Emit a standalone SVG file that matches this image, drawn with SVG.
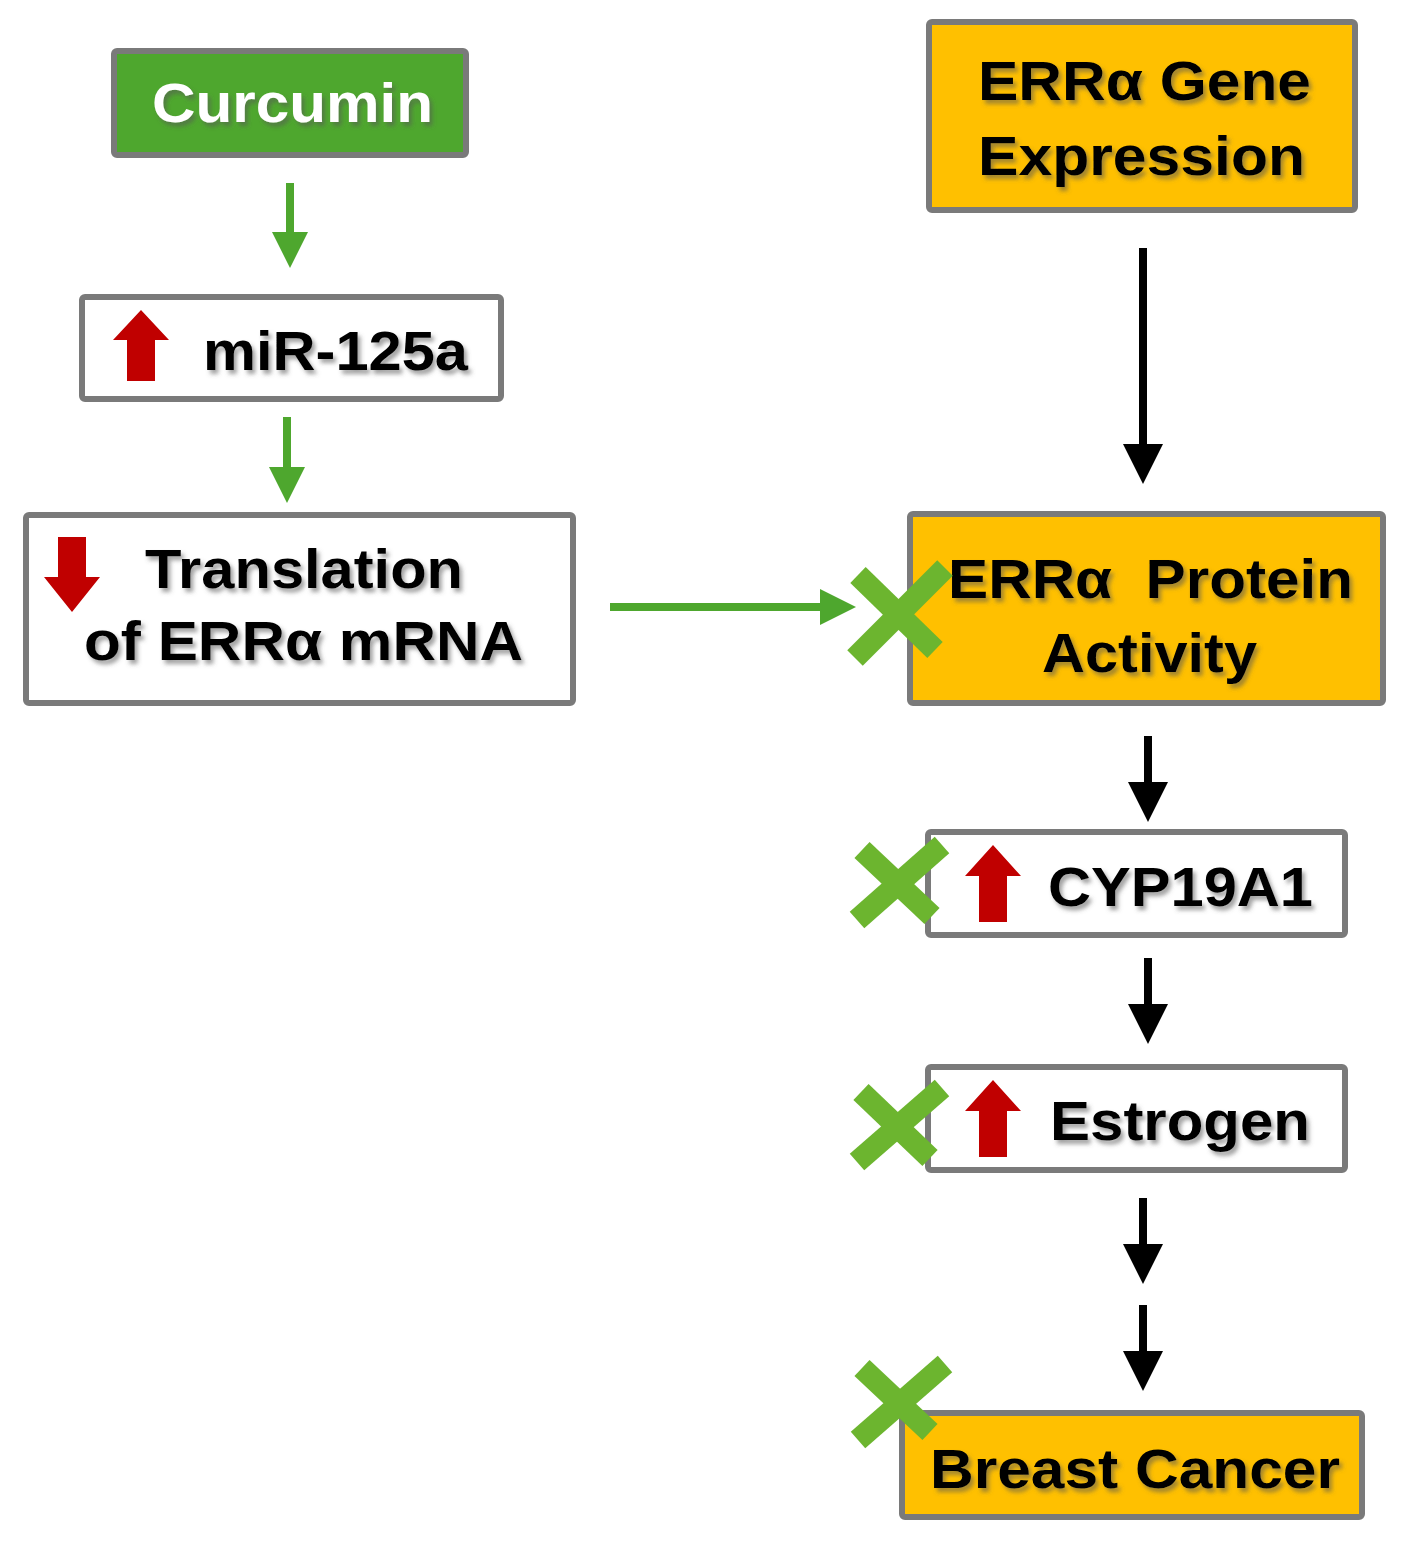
<svg xmlns="http://www.w3.org/2000/svg" width="1417" height="1541" viewBox="0 0 1417 1541">
<defs>
<filter id="sh" x="-10%" y="-20%" width="120%" height="150%">
<feDropShadow dx="3" dy="4" stdDeviation="2" flood-color="#555" flood-opacity="0.55"/>
</filter>
<marker id="gh" viewBox="0 0 10 10" refX="0" refY="5" markerWidth="4.5" markerHeight="4.5" orient="auto" markerUnits="strokeWidth">
<path d="M0,0 L10,5 L0,10 z" fill="#4ea72e"/>
</marker>
<marker id="bh" viewBox="0 0 10 10" refX="0" refY="5" markerWidth="5" markerHeight="5" orient="auto" markerUnits="strokeWidth">
<path d="M0,0 L10,5 L0,10 z" fill="#000"/>
</marker>
</defs>
<style>
.box{stroke:#7a7a7a;stroke-width:6}
.w{fill:#fff}
.o{fill:#ffc000}
.g{fill:#4ea72e}
.t{font-family:"Liberation Sans",Arial,sans-serif;font-weight:bold;font-size:56px;fill:#000;filter:url(#sh)}
.tw{fill:#fff}
.ga{stroke:#4ea72e;stroke-width:8;fill:none;marker-end:url(#gh)}
.ba{stroke:#000;stroke-width:8;fill:none;marker-end:url(#bh)}
.red{fill:#c00000}
.x{stroke:#6cb52f;stroke-width:22;stroke-linecap:butt}
</style>
<rect width="1417" height="1541" fill="#fff"/>

<g id="connectors">
<line class="ga" x1="290" y1="183" x2="290" y2="232"/>
<line class="ga" x1="287" y1="417" x2="287" y2="467"/>
<line class="ga" x1="610" y1="607" x2="820" y2="607"/>
<line class="ba" x1="1143" y1="248" x2="1143" y2="444"/>
<line class="ba" x1="1148" y1="736" x2="1148" y2="782"/>
<line class="ba" x1="1148" y1="958" x2="1148" y2="1004"/>
<line class="ba" x1="1143" y1="1198" x2="1143" y2="1244"/>
<line class="ba" x1="1143" y1="1305" x2="1143" y2="1351"/>
</g>

<g id="curcumin">
<rect class="box g" x="114" y="51" width="352" height="104" rx="3"/>
<text class="t tw" x="152" y="122" textLength="281" lengthAdjust="spacingAndGlyphs" font-size="60">Curcumin</text>
</g>

<g id="mir125a">
<rect class="box w" x="82" y="297" width="419" height="102" rx="3"/>
<path class="red" d="M141,310 L169,340 L155,340 L155,381 L127,381 L127,340 L113,340 z"/>
<text class="t" x="203" y="370" textLength="265" lengthAdjust="spacingAndGlyphs">miR-125a</text>
</g>

<g id="translation">
<rect class="box w" x="26" y="515" width="547" height="188" rx="3"/>
<path class="red" d="M58,537 L86,537 L86,577 L100,577 L72,612 L44,577 L58,577 z"/>
<text class="t" x="145" y="588" textLength="318" lengthAdjust="spacingAndGlyphs">Translation</text>
<text class="t" x="84" y="660" textLength="439" lengthAdjust="spacingAndGlyphs">of ERRα mRNA</text>
</g>

<g id="gene-expression">
<rect class="box o" x="929" y="22" width="426" height="188" rx="3"/>
<text class="t" x="978" y="100" textLength="333" lengthAdjust="spacingAndGlyphs">ERRα Gene</text>
<text class="t" x="978" y="175" textLength="327" lengthAdjust="spacingAndGlyphs">Expression</text>
</g>

<g id="protein-activity">
<rect class="box o" x="910" y="514" width="473" height="189" rx="3"/>
<text class="t" x="948" y="598" textLength="405" lengthAdjust="spacingAndGlyphs" xml:space="preserve">ERRα  Protein</text>
<text class="t" x="1042" y="672" textLength="215" lengthAdjust="spacingAndGlyphs">Activity</text>
<line class="x" x1="855" y1="658" x2="945" y2="568"/>
<line class="x" x1="858" y1="575" x2="935" y2="650"/>
</g>

<g id="cyp19a1">
<rect class="box w" x="928" y="832" width="417" height="103" rx="3"/>
<path class="red" d="M993,845 L1021,876 L1007,876 L1007,922 L979,922 L979,876 L965,876 z"/>
<text class="t" x="1048" y="906" textLength="265" lengthAdjust="spacingAndGlyphs">CYP19A1</text>
<line class="x" x1="857" y1="920" x2="942" y2="845"/>
<line class="x" x1="862" y1="850" x2="932" y2="916"/>
</g>

<g id="estrogen">
<rect class="box w" x="928" y="1067" width="417" height="103" rx="3"/>
<path class="red" d="M993,1080 L1021,1111 L1007,1111 L1007,1157 L979,1157 L979,1111 L965,1111 z"/>
<text class="t" x="1050" y="1140" textLength="260" lengthAdjust="spacingAndGlyphs">Estrogen</text>
<line class="x" x1="857" y1="1162" x2="942" y2="1088"/>
<line class="x" x1="861" y1="1092" x2="930" y2="1158"/>
</g>

<g id="breast-cancer">
<rect class="box o" x="902" y="1413" width="460" height="104" rx="3"/>
<text class="t" x="930" y="1488" textLength="410" lengthAdjust="spacingAndGlyphs">Breast Cancer</text>
<line class="x" x1="858" y1="1440" x2="945" y2="1364"/>
<line class="x" x1="862" y1="1368" x2="930" y2="1432"/>
</g>
</svg>
